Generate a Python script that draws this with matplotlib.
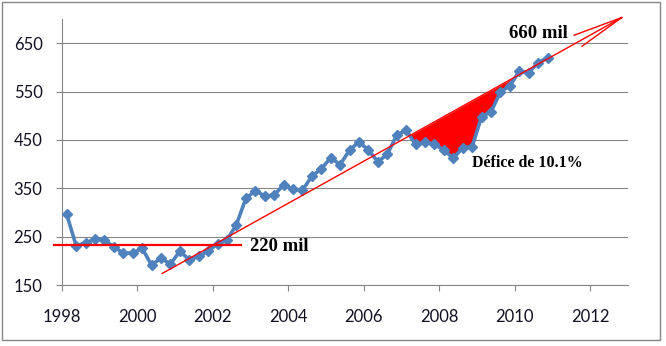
import numpy as np
from matplotlib import pyplot as plt
from matplotlib.patches import Rectangle

# quarterly series, 1998 Q1 .. 2010 Q4
first_quarter = 1998.125
values = [296, 231, 237, 245, 243, 229, 216, 216, 226, 191,
          206, 193, 220, 202, 209, 220, 235, 243, 275, 329,
          345, 334, 336, 357, 348, 346, 375, 390, 413, 399,
          429, 446, 429, 405, 420, 460, 470, 441, 445, 441,
          429, 412, 434, 436, 498, 508, 549, 562, 592, 589,
          610, 620]

# annotation lines
level_x = [1997.79, 2002.74]
level_y = [232.6, 232.6]
trend_x = [2000.66, 2012.84]
trend_y = [174, 703]
barb_x = [2011.58, 2011.79]
barb_y = [666.5, 643.8]

year_ticks = [1998, 2000, 2002, 2004, 2006, 2008, 2010, 2012]
value_ticks = [150, 250, 350, 450, 550, 650]

label_font = 'Lato'
note_font = 'Liberation Serif'
red = '#ff0000'
blue = '#4f81bd'
grey = '#868686'


def main():
    x = first_quarter + 0.25 * np.arange(len(values))
    y = np.array(values, dtype=float)
    trend_at_x = np.interp(x, trend_x, trend_y)

    fig = plt.figure(figsize=(6.66, 3.46), dpi=100)
    ax = fig.add_axes([0.0931, 0.1763, 0.8494, 0.7687])

    ax.set_xlim(1998, 2013)
    ax.set_ylim(150, 700)
    ax.set_xticks(year_ticks)
    ax.set_yticks(value_ticks)
    ax.yaxis.grid(True, color=grey, linewidth=0.8)
    ax.set_axisbelow(True)
    for side in ['top', 'right']:
        ax.spines[side].set_visible(False)
    for side in ['left', 'bottom']:
        ax.spines[side].set_color(grey)
        ax.spines[side].set_linewidth(0.8)
    ax.tick_params(axis='x', direction='out', length=4, color=grey, pad=13)
    ax.tick_params(axis='y', direction='out', length=4, color=grey, pad=10)
    for lab in ax.get_xticklabels() + ax.get_yticklabels():
        lab.set_fontfamily(label_font)
        lab.set_fontsize(12)
        lab.set_color('#111122')

    # deficit area between trend and actual
    mask = (x > 2007) & (x < 2010)
    ax.fill_between(x, y, trend_at_x, where=mask & (trend_at_x > y),
                    interpolate=True, color=red, linewidth=0, zorder=2)

    ax.plot(x, y, color=blue, linewidth=2.6, marker='D', markersize=5.5,
            markeredgecolor=blue, zorder=3)

    ax.plot(level_x, level_y, color=red, linewidth=1.6, clip_on=False, zorder=4)
    ax.plot(trend_x, trend_y, color=red, linewidth=1.0, clip_on=False, zorder=4)
    # arrow head barbs at the end of the trend
    for bx, by in zip(barb_x, barb_y):
        ax.plot([bx, trend_x[1]], [by, trend_y[1]], color=red, linewidth=1.0,
                clip_on=False, zorder=4)

    ax.text(2009.85, 671, '660 mil', fontfamily=note_font, fontweight='bold',
            fontsize=13.5, va='center', ha='left', clip_on=False)
    ax.text(2002.99, 229, '220 mil', fontfamily=note_font, fontweight='bold',
            fontsize=13.5, va='center', ha='left')
    ax.text(2008.86, 403, 'Défice de 10.1%', fontfamily=note_font,
            fontweight='bold', fontsize=11.5, va='center', ha='left')

    fig.patches.append(Rectangle((2 / 666, 1 - 340 / 346), 658 / 666, 338 / 346,
                                 transform=fig.transFigure, fill=False,
                                 edgecolor=grey, linewidth=1))

    plt.savefig('out.png', dpi=100)


if __name__ == '__main__':
    main()
